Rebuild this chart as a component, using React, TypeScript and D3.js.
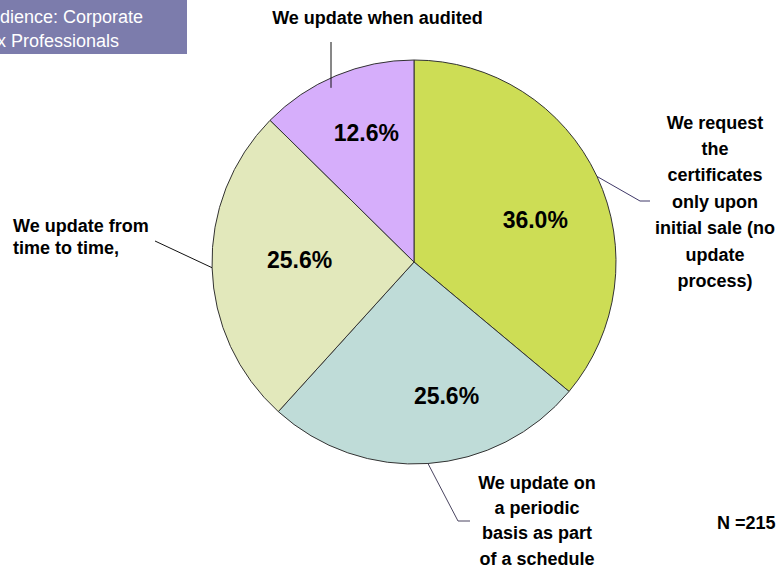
import React from "react";
import * as d3 from "d3";

const categories = [
  "We request the certificates only upon initial sale (no update process)",
  "We update on a periodic basis as part of a schedule",
  "We update from time to time,",
  "We update when audited",
];
const values = [36.0, 25.6, 25.6, 12.6];
const colors = ["#CDDD55", "#BFDCD8", "#E2E8BB", "#D6AEFB"];
const boxLines = ["Audience: Corporate", "Tax Professionals"];
const nLabel = "N =215";

const W = 778;
const H = 571;
const cx = 414;
const cy = 262;
const R = 202;
const FONT = "'Liberation Sans', Arial, Helvetica, sans-serif";

// layout nudges for the value labels (Excel best-fit placement)
const LABEL_NUDGE: [number, number][] = [
  [3.5, 13],
  [23.5, 4],
  [15.5, -6],
  [2.5, -9],
];

export default function App() {
  const pie = d3.pie<number>().sort(null).value((d) => d)(values);
  const arc = d3.arc<d3.PieArcDatum<number>>().innerRadius(0).outerRadius(R);
  const labelArc = d3
    .arc<d3.PieArcDatum<number>>()
    .innerRadius(130)
    .outerRadius(130);

  const edge = (a: number, r = R): [number, number] => [
    cx + r * Math.sin(a),
    cy - r * Math.cos(a),
  ];
  const mid = (i: number) => (pie[i].startAngle + pie[i].endAngle) / 2;

  const gEdge = edge(mid(0));
  const tEdge = edge(mid(1));
  const yEdge = edge(mid(2));
  const pX = 331;
  const pY = cy - Math.sqrt(R * R - (cx - pX) * (cx - pX)) + 10;

  const line = d3.line();

  const labelStyle: React.CSSProperties = {
    fontFamily: FONT,
    fontWeight: "bold",
    fontSize: 18,
    fill: "#000",
  };

  const rightLines = ["We request", "the", "certificates", "only upon", "initial sale (no", "update", "process)"];
  const bottomLines = ["We update on", "a periodic", "basis as part", "of a schedule"];
  const leftLines = ["We update from", "time to time,"];

  return (
    <svg
      width={W}
      height={H}
      style={{ position: "absolute", left: 0, top: 0, background: "#fff" }}
    >
      <rect x={0} y={0} width={187} height={54} fill="#7C7CAC" />
      {boxLines.map((t, i) => (
        <text
          key={t}
          x={-22}
          y={23 + i * 24}
          style={{ fontFamily: FONT, fontSize: 18, fill: "#fff" }}
        >
          {t}
        </text>
      ))}

      <g transform={`translate(${cx},${cy})`}>
        {pie.map((p, i) => (
          <path
            key={categories[i]}
            d={arc(p) || ""}
            fill={colors[i]}
            stroke="#333"
            strokeWidth={1}
          />
        ))}
        {pie.map((p, i) => {
          const [x, y] = labelArc.centroid(p);
          return (
            <text
              key={"v" + i}
              x={x + LABEL_NUDGE[i][0]}
              y={y + LABEL_NUDGE[i][1]}
              textAnchor="middle"
              dominantBaseline="central"
              style={{ ...labelStyle, fontSize: 23 }}
            >
              {values[i].toFixed(1) + "%"}
            </text>
          );
        })}
      </g>

      <path
        d={line([gEdge, [640, 201], [650, 201]]) || ""}
        fill="none"
        stroke="#3F3868"
        strokeWidth={1}
      />
      <path
        d={line([tEdge, [458, 521], [470, 521]]) || ""}
        fill="none"
        stroke="#4A4560"
        strokeWidth={1}
      />
      <path
        d={line([yEdge, [155, 241]]) || ""}
        fill="none"
        stroke="#111"
        strokeWidth={1}
      />
      <path
        d={line([[pX, pY], [pX, 42]]) || ""}
        fill="none"
        stroke="#111"
        strokeWidth={1}
      />

      <text x={377.5} y={23.5} textAnchor="middle" style={labelStyle}>
        {categories[3]}
      </text>
      {rightLines.map((t, i) => (
        <text key={t} x={715} y={128.5 + i * 26.4} textAnchor="middle" style={labelStyle}>
          {t}
        </text>
      ))}
      {leftLines.map((t, i) => (
        <text key={t} x={13} y={231.5 + i * 22} style={labelStyle}>
          {t}
        </text>
      ))}
      {bottomLines.map((t, i) => (
        <text key={t} x={537} y={488.5 + i * 25.4} textAnchor="middle" style={labelStyle}>
          {t}
        </text>
      ))}
      <text x={717} y={528.5} style={labelStyle}>
        {nLabel}
      </text>
    </svg>
  );
}
